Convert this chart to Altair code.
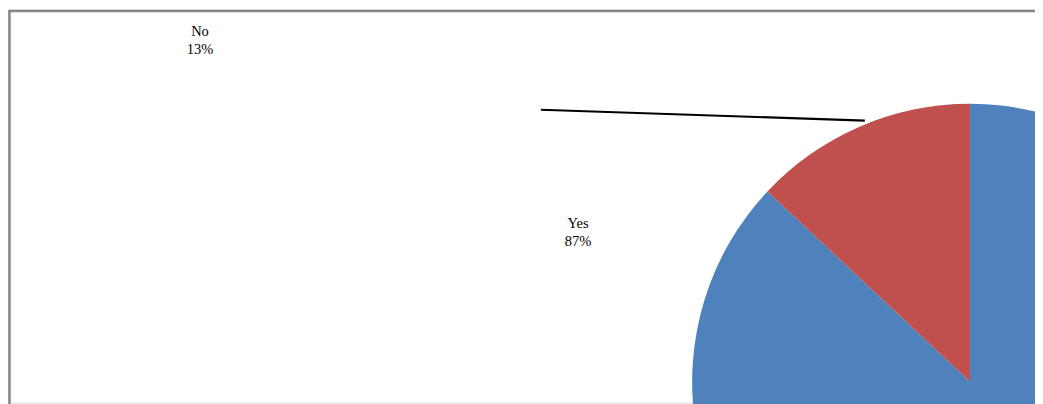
import altair as alt
import pandas as pd

categories = ["Yes", "No"]
values = [87, 13]
pct_labels = ["87%", "13%"]
colors = ["#4F81BD", "#C0504D"]

df = pd.DataFrame({
    "category": categories,
    "value": values,
    "order": [0, 1],
    "label": [f"{c}\n{p}" for c, p in zip(categories, pct_labels)],
})

W, H = 1035, 396

pie = alt.Chart(df).mark_arc(radius=280, stroke=None).encode(
    theta=alt.Theta("value:Q", stack=True),
    order=alt.Order("order:Q"),
    color=alt.Color("category:N", scale=alt.Scale(domain=categories, range=colors), legend=None),
    x=alt.value(969.5),
    y=alt.value(375),
)

frame = alt.Chart(pd.DataFrame({"a": [0]})).mark_rect(
    fill=None, stroke="#868686", strokeWidth=2.5
).encode(
    x=alt.value(1.5), x2=alt.value(W + 20),
    y=alt.value(1.5), y2=alt.value(H + 20),
)

text_style = dict(
    font="Liberation Serif", fontSize=14.6, color="#000000", lineBreak="\n",
    align="center", baseline="middle", lineHeight=17.6,
)

yes_label = alt.Chart(df[df.category == "Yes"]).mark_text(**text_style).encode(
    text="label:N", x=alt.value(574.5), y=alt.value(216.5)
)

no_label = alt.Chart(df[df.category == "No"]).mark_text(**text_style).encode(
    text="label:N", x=alt.value(193.5), y=alt.value(23)
)

leader = alt.Chart(pd.DataFrame({"a": [0]})).mark_rule(
    color="#000000", strokeWidth=2.2
).encode(
    x=alt.value(537), y=alt.value(101),
    x2=alt.value(863.5), y2=alt.value(112),
)

chart = alt.layer(pie, leader, yes_label, no_label, frame).properties(
    width=W, height=H, padding=0, autosize=alt.AutoSizeParams(type="none")
).configure_view(stroke=None).configure(background="#ffffff")

chart.save("out.html", embed_options={"renderer": "svg", "actions": False})
